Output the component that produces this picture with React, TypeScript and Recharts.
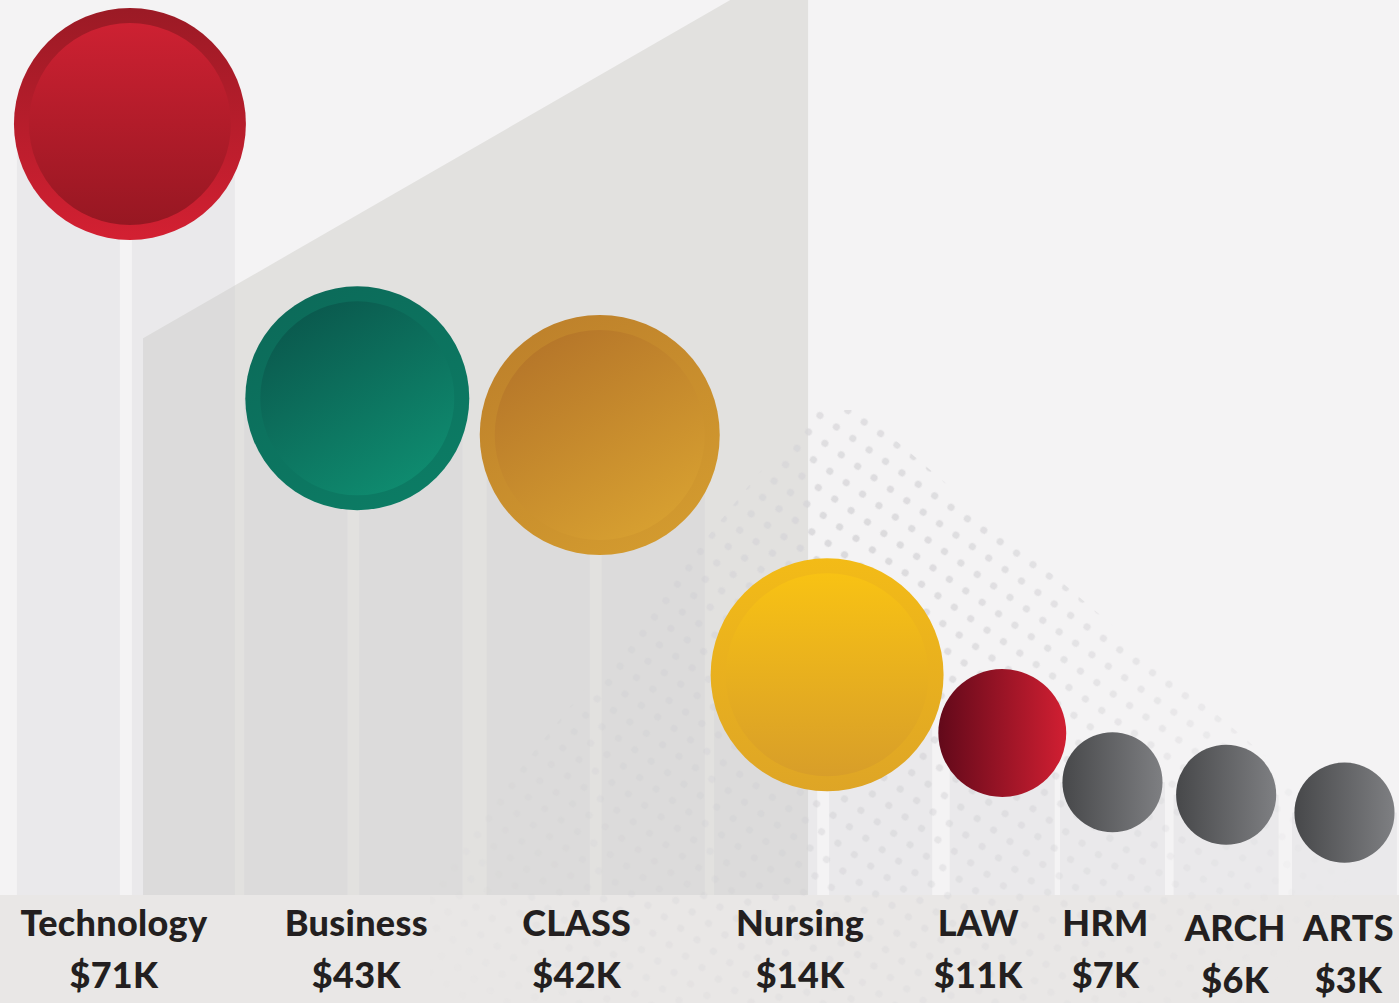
import React from 'react'
import { ScatterChart, Scatter, XAxis, YAxis, ZAxis, ReferenceArea } from 'recharts'

const CATEGORIES = ['Technology', 'Business', 'CLASS', 'Nursing', 'LAW', 'HRM', 'ARCH', 'ARTS']
const SALARY_K = [71, 43, 42, 14, 11, 7, 6, 3]
// horizontal slot of each bubble centre (one slot = one background column)
const SLOT = [0.56, 2.52, 4.61, 6.57, 8.08, 9.03, 10.01, 11.03]
// height of each bubble centre, 0 = floor, 100 = top of the plot
const LEVEL = [86.15, 55.5, 51.4, 24.6, 18.1, 12.6, 11.2, 9.2]
// relative bubble area (CLASS = 100)
const BUBBLE = [93.4, 87.1, 100, 94.2, 28.4, 17.4, 17.4, 17.4]

const data = CATEGORIES.map((name, i) => ({
  name,
  salary: SALARY_K[i],
  slot: SLOT[i],
  level: LEVEL[i],
  bubble: BUBBLE[i],
}))

const W = 1399
const H = 1003
const AXIS_H = 108
const FLOOR_Y = H - AXIS_H
const X_DOMAIN: [number, number] = [-0.56, 11.5]
const MAX_R = 120

// label tweaks (px): the captions are not centred exactly under the bubbles
const LABEL_NUDGE = [-16, -1, -23, -27, -24, -7, 9, 4]
const LABEL_DROP = [0, 0, 0, 0, 0, 0, 5, 5]

type Look = { dir: 'v' | 'd' | 'h'; outer: [string, string]; inner?: [string, string] }
const LOOKS: Look[] = [
  { dir: 'v', outer: ['#9b1a25', '#d32032'], inner: ['#cd2132', '#971722'] },
  { dir: 'd', outer: ['#0c6a59', '#0c7d65'], inner: ['#0a574c', '#0f8e71'] },
  { dir: 'd', outer: ['#bd802b', '#d49c2f'], inner: ['#b47429', '#d9a231'] },
  { dir: 'v', outer: ['#f3bb17', '#dea526'], inner: ['#f8c214', '#d89e29'] },
  { dir: 'h', outer: ['#62091a', '#d11f32'] },
  { dir: 'h', outer: ['#47484a', '#7e7f82'] },
  { dir: 'h', outer: ['#47484a', '#7e7f82'] },
  { dir: 'h', outer: ['#47484a', '#7e7f82'] },
]

const DIRS = {
  v: { x1: 0, y1: 0, x2: 0, y2: 1 },
  d: { x1: 0.2, y1: 0, x2: 0.8, y2: 1 },
  h: { x1: 0, y1: 0, x2: 1, y2: 0 },
}

function Bubble(props: any) {
  const { cx, cy, width, payload } = props
  const i = CATEGORIES.indexOf(payload.name)
  const look = LOOKS[i]
  const r = width / 2
  const d = DIRS[look.dir]
  return (
    <g>
      <defs>
        <linearGradient id={`bo${i}`} {...d}>
          <stop offset="0%" stopColor={look.outer[0]} />
          <stop offset="100%" stopColor={look.outer[1]} />
        </linearGradient>
        {look.inner && (
          <linearGradient id={`bi${i}`} {...d}>
            <stop offset="0%" stopColor={look.inner[0]} />
            <stop offset="100%" stopColor={look.inner[1]} />
          </linearGradient>
        )}
      </defs>
      <circle cx={cx} cy={cy} r={r} fill={`url(#bo${i})`} />
      {look.inner && <circle cx={cx} cy={cy} r={r - 15} fill={`url(#bi${i})`} />}
    </g>
  )
}

// pale column(s) rising from the floor up to each bubble
function Column(props: any) {
  const { cx, cy, width } = props
  const r = width / 2
  const h = FLOOR_Y - cy
  const fill = '#c8c7cf'
  if (r > 80) {
    return (
      <g fillOpacity={0.22}>
        <rect x={cx - 113} y={cy} width={103} height={h} fill={fill} />
        <rect x={cx + 2} y={cy} width={103} height={h} fill={fill} />
      </g>
    )
  }
  return <rect x={cx - 52.5} y={cy} width={105} height={h} fill={fill} fillOpacity={0.22} />
}

function Ramp(props: any) {
  const { x, y, width, height } = props
  const pts = [
    [x, y + height * 0.378],
    [x + width * 0.883, y],
    [x + width, y],
    [x + width, y + height],
    [x, y + height],
  ]
  return <polygon points={pts.map(p => p.join(',')).join(' ')} fill="#e2e1df" />
}

function Dots(props: any) {
  const { x, y, width, height } = props
  return (
    <g>
      <defs>
        <pattern id="halftone" width={20} height={20} patternUnits="userSpaceOnUse" patternTransform="rotate(35)">
          <circle cx={10} cy={10} r={3.6} fill="#d6d5d8" />
        </pattern>
        <radialGradient id="dotFade" gradientUnits="userSpaceOnUse" cx={850} cy={560} r={600}>
          <stop offset="0%" stopColor="#ddd" />
          <stop offset="50%" stopColor="#777" />
          <stop offset="100%" stopColor="#000" />
        </radialGradient>
        <mask id="dotMask">
          <rect x={x} y={y} width={width} height={height + AXIS_H} fill="url(#dotFade)" />
        </mask>
        <clipPath id="dotClip">
          <polygon points={`810,410 860,410 ${W},870 ${W},${H} 430,${H} 430,880`} />
        </clipPath>
      </defs>
      <rect
        x={x}
        y={y}
        width={width}
        height={height + AXIS_H}
        fill="url(#halftone)"
        mask="url(#dotMask)"
        clipPath="url(#dotClip)"
      />
    </g>
  )
}

function Caption(props: any) {
  const { x, y, payload } = props
  const i = SLOT.indexOf(payload.value)
  if (i < 0) return null
  const tx = x + LABEL_NUDGE[i]
  return (
    <text
      x={tx}
      y={y + 33 + LABEL_DROP[i]}
      textAnchor="middle"
      fill="#231f20"
      style={{ fontFamily: 'Lato, "Open Sans", sans-serif', fontWeight: 900, fontSize: 36, letterSpacing: 0.3 }}
    >
      <tspan x={tx}>{CATEGORIES[i]}</tspan>
      <tspan x={tx} dy={52}>{`$${SALARY_K[i]}K`}</tspan>
    </text>
  )
}

export default function App() {
  return (
    <div
      style={{
        position: 'absolute',
        left: 0,
        top: 0,
        width: W,
        height: H,
        overflow: 'hidden',
        background: `linear-gradient(#f4f3f4 0px, #f4f3f4 ${FLOOR_Y}px, #e9e7e6 ${FLOOR_Y}px)`,
      }}
    >
      <ScatterChart width={W} height={H} margin={{ top: 0, right: 0, bottom: 0, left: 0 }}>
        <XAxis
          type="number"
          dataKey="slot"
          domain={X_DOMAIN}
          ticks={SLOT}
          interval={0}
          height={AXIS_H}
          axisLine={false}
          tickLine={false}
          tick={<Caption />}
        />
        <YAxis type="number" dataKey="level" domain={[0, 100]} hide />
        <ZAxis type="number" dataKey="bubble" domain={[0, 100]} range={[0, Math.PI * MAX_R * MAX_R]} />
        <ReferenceArea x1={0.673} x2={6.406} y1={0} y2={100} shape={Ramp} />
        <ReferenceArea x1={X_DOMAIN[0]} x2={X_DOMAIN[1]} y1={0} y2={100} shape={Dots} />
        <Scatter data={data} shape={Column} isAnimationActive={false} />
        <Scatter data={data} shape={Bubble} isAnimationActive={false} />
      </ScatterChart>
    </div>
  )
}
